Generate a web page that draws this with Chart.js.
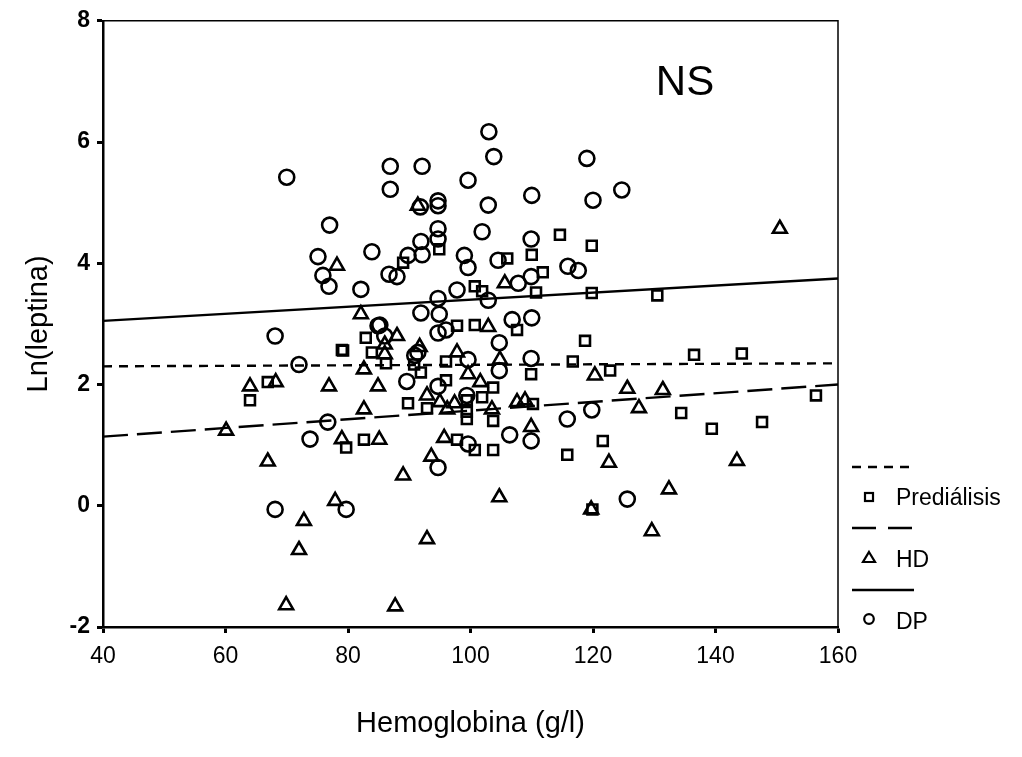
<!DOCTYPE html>
<html>
  <head>
    <meta http-equiv="Content-Type" content="text/html;charset=utf-8"/>
    <script src="https://cdn.jsdelivr.net/npm/chart.js@4/dist/chart.umd.min.js"></script>
    <style type="text/css">
    body { margin: 0; background: #fff; }
    #chart-container { width: 1022px; height: 757px; position: relative; }
    </style>
</head>
<body>
    <div id="chart-container"><canvas id="chart"></canvas></div>
    <script type="text/javascript">
    // Prediálisis (squares)
    var prediX = [94.9,114.6,119.8,110.0,106.0,89.0,111.8,100.7,101.9,110.7,119.8,130.5,79.0,66.9,64.0,79.7,82.9,97.8,100.7,107.6,118.7,79.2,83.9,86.2,90.8,91.9,96.0,109.9,116.7,96.0,103.7,101.9,89.8,99.4,99.4,99.4,92.9,103.7,110.2,82.6,97.8,100.7,103.7,115.8,119.9,136.5,144.3,122.8,134.4,139.4,147.6,156.4,121.6];
    var prediY = [4.23,4.47,4.29,4.14,4.08,4.01,3.85,3.62,3.54,3.52,3.51,3.47,2.57,2.04,1.74,0.96,2.77,2.97,2.98,2.90,2.72,2.56,2.53,2.35,2.33,2.20,2.38,2.17,2.38,2.07,1.95,1.79,1.69,1.74,1.55,1.43,1.61,1.40,1.68,1.09,1.09,0.92,0.92,0.84,-0.06,2.49,2.51,2.23,1.53,1.27,1.38,1.82,1.07];

    // HD (triangles)
    var hdX = [91.4,78.2,105.6,82.1,102.9,88.0,64.0,68.2,76.9,60.1,79.0,66.9,77.9,72.8,72.0,69.9,86.0,86.0,82.6,91.7,97.8,104.8,99.6,120.3,84.9,101.6,92.9,95.0,96.2,97.4,82.6,103.5,107.6,108.9,85.1,95.7,109.9,93.6,89.0,104.7,119.7,92.9,87.7,125.6,131.4,127.5,122.6,143.5,132.4,129.6,150.5];
    var hdY = [4.95,3.96,3.67,3.16,2.95,2.80,1.97,2.04,1.97,1.24,1.10,0.73,0.08,-0.25,-0.73,-1.64,2.66,2.50,2.25,2.62,2.53,2.41,2.17,2.15,1.97,2.04,1.82,1.71,1.59,1.69,1.59,1.59,1.71,1.74,1.09,1.12,1.30,0.81,0.50,0.14,-0.06,-0.55,-1.66,1.93,1.91,1.61,0.71,0.74,0.27,-0.42,4.57];

    // DP (circles)
    var dpX = [70.0,77.0,86.9,86.9,92.1,103.0,103.8,99.6,119.0,124.7,110.0,120.0,91.8,94.7,94.7,102.9,94.7,101.9,109.9,94.7,83.9,91.9,89.8,92.1,99.0,99.6,104.5,86.7,88.0,82.1,107.8,109.9,115.9,117.6,97.8,94.7,102.9,91.9,94.9,85.2,106.8,110.0,75.1,75.9,76.9,68.1,72.0,76.7,73.8,68.1,79.7,84.9,86.0,94.7,96.0,104.7,104.7,91.4,90.9,99.6,109.9,89.6,94.7,99.4,115.8,119.8,99.6,106.4,109.9,94.7,125.6];
    var dpY = [5.42,4.63,5.60,5.22,5.60,6.17,5.76,5.37,5.73,5.21,5.12,5.04,4.93,5.03,4.95,4.96,4.57,4.52,4.40,4.40,4.19,4.36,4.13,4.14,4.13,3.93,4.05,3.82,3.78,3.57,3.67,3.78,3.95,3.88,3.56,3.42,3.39,3.18,3.16,2.98,3.07,3.10,4.11,3.80,3.62,2.80,2.33,1.38,1.10,-0.06,-0.06,2.97,2.80,2.85,2.90,2.69,2.23,2.53,2.48,2.41,2.43,2.05,1.97,1.82,1.43,1.58,1.02,1.17,1.07,0.63,0.11];

    // fitted lines, read at the ends of the x axis
    var fitX = [40, 160];
    var prediFit = [2.30, 2.35];
    var hdFit = [1.14, 2.00];
    var dpFit = [3.05, 3.75];

    var xTicks = [40, 60, 80, 100, 120, 140, 160];
    var yTicks = [-2, 0, 2, 4, 6, 8];

    var fontFamily = '"Liberation Sans", Arial, Helvetica, sans-serif';

    function pts(xs, ys) {
        return xs.map(function(x, i) { return {x: x, y: ys[i]}; });
    }

    function fitLine(ys, dash) {
        return {
            data: pts(fitX, ys),
            showLine: true,
            borderColor: '#000',
            borderWidth: 2.4,
            borderDash: dash,
            pointRadius: 0,
            pointHoverRadius: 0,
            fill: false
        };
    }

    function marks(xs, ys, style, r) {
        return {
            data: pts(xs, ys),
            pointStyle: style,
            pointRadius: r,
            pointHoverRadius: r,
            pointBorderWidth: 2.6,
            borderColor: '#000',
            backgroundColor: 'rgba(0,0,0,0)',
            showLine: false
        };
    }

    /* frame, the "NS" note and the legend to the right */
    var extras = {
        id: 'extras',
        afterDraw: function(chart) {
            var ctx = chart.ctx, a = chart.chartArea;
            ctx.save();
            ctx.strokeStyle = '#000';
            ctx.lineWidth = 1.5;
            ctx.setLineDash([]);
            ctx.beginPath();
            ctx.moveTo(a.left, a.top);
            ctx.lineTo(a.right, a.top);
            ctx.lineTo(a.right, a.bottom);
            ctx.stroke();

            ctx.fillStyle = '#000';
            ctx.font = '42px ' + fontFamily;
            ctx.textAlign = 'center';
            ctx.textBaseline = 'middle';
            ctx.fillText('NS', 685, 83);

            // legend
            ctx.lineWidth = 2.4;
            ctx.beginPath();
            ctx.setLineDash([9, 7]);
            ctx.moveTo(852, 467); ctx.lineTo(914, 467);
            ctx.stroke();
            ctx.beginPath();
            ctx.setLineDash([24, 12]);
            ctx.moveTo(852, 528); ctx.lineTo(914, 528);
            ctx.stroke();
            ctx.beginPath();
            ctx.setLineDash([]);
            ctx.moveTo(852, 590); ctx.lineTo(914, 590);
            ctx.stroke();

            ctx.lineWidth = 2.2;
            ctx.strokeRect(865, 493, 8, 8);
            ctx.beginPath();
            ctx.moveTo(869, 552); ctx.lineTo(875, 562); ctx.lineTo(863, 562); ctx.closePath();
            ctx.stroke();
            ctx.beginPath();
            ctx.arc(869, 619, 4.8, 0, Math.PI * 2);
            ctx.stroke();

            ctx.font = '23px ' + fontFamily;
            ctx.textAlign = 'left';
            ctx.fillText('Prediálisis', 896, 499);
            ctx.fillText('HD', 896, 561);
            ctx.fillText('DP', 896, 623);
            ctx.restore();
        }
    };

    new Chart(document.getElementById('chart'), {
        type: 'scatter',
        data: {
            datasets: [
                fitLine(prediFit, [9, 7]),
                fitLine(hdFit, [25, 9]),
                fitLine(dpFit, []),
                marks(prediX, prediY, 'rect', 7),
                marks(hdX, hdY, 'triangle', 8),
                marks(dpX, dpY, 'circle', 7.5)
            ]
        },
        options: {
            responsive: true,
            maintainAspectRatio: false,
            animation: false,
            events: [],
            layout: { padding: { left: 0, right: 184, top: 15, bottom: 0 } },
            plugins: { legend: { display: false }, tooltip: { enabled: false } },
            scales: {
                x: {
                    type: 'linear',
                    min: 40, max: 160,
                    afterFit: function(scale) { scale.height = 130; },
                    afterBuildTicks: function(scale) {
                        scale.ticks = xTicks.map(function(v) { return {value: v}; });
                    },
                    ticks: { color: '#000', padding: 10, font: { family: fontFamily, size: 23 } },
                    grid: { display: true, drawOnChartArea: false, tickLength: 6, tickWidth: 3, tickColor: '#000' },
                    border: { display: true, color: '#000', width: 2.5 },
                    title: {
                        display: true, text: 'Hemoglobina (g/l)', color: '#000',
                        font: { family: fontFamily, size: 29 },
                        padding: { top: 0, bottom: 16 }
                    }
                },
                y: {
                    type: 'linear',
                    min: -2, max: 8,
                    afterFit: function(scale) { scale.width = 103; },
                    afterBuildTicks: function(scale) {
                        scale.ticks = yTicks.map(function(v) { return {value: v}; });
                    },
                    ticks: { color: '#000', padding: 7, font: { family: fontFamily, size: 23, weight: 'bold' } },
                    grid: { display: true, drawOnChartArea: false, tickLength: 6, tickWidth: 3, tickColor: '#000' },
                    border: { display: true, color: '#000', width: 2.5 },
                    title: {
                        display: true, text: 'Ln(leptina)', color: '#000',
                        font: { family: fontFamily, size: 29 },
                        padding: { top: 22, bottom: 0 }
                    }
                }
            }
        },
        plugins: [extras]
    });
    </script>
</body>
</html>
